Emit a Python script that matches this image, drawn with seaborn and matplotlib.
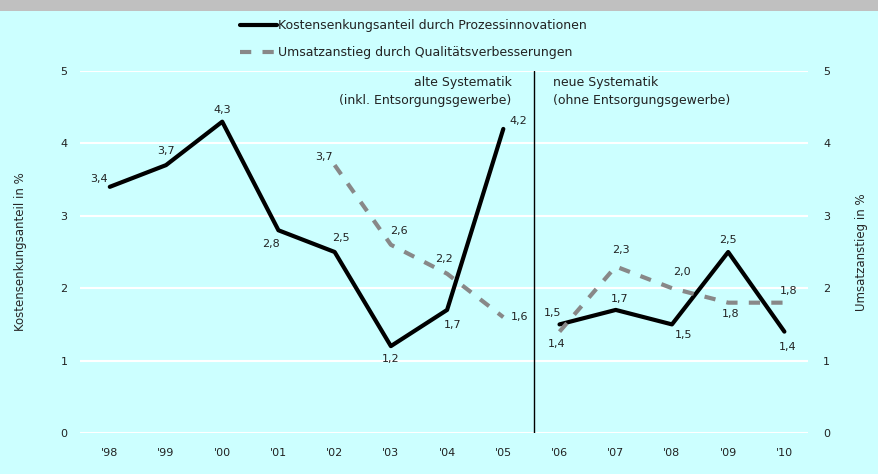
import matplotlib
matplotlib.use("Agg")
import matplotlib.pyplot as plt
from matplotlib.patches import Rectangle
import pandas as pd
import seaborn as sns

years = ["'98", "'99", "'00", "'01", "'02", "'03", "'04", "'05",
         "'06", "'07", "'08", "'09", "'10"]
kosten = [3.4, 3.7, 4.3, 2.8, 2.5, 1.2, 1.7, 4.2, 1.5, 1.7, 1.5, 2.5, 1.4]
umsatz = [None, None, None, None, 3.7, 2.6, 2.2, 1.6, 1.4, 2.3, 2.0, 1.8, 1.8]
period = ["alt"] * 8 + ["neu"] * 5

# label offsets in pixels (dx, dy)
kosten_off = [(-11, 8), (0, 14), (0, 12), (-7, -14), (6, 14), (0, -13), (6, -15),
              (15, 8), (-7, 11), (4, 11), (12, -11), (0, 12), (3, -15)]
umsatz_off = [None, None, None, None, (-11, 8), (8, 14), (-3, 15), (16, 0),
              (-3, -12), (5, 16), (10, 16), (2, -11), (4, 12)]

bg = "#ccffff"
sns.set_style("white")
plt.rcParams["font.family"] = ["DejaVu Sans"]

df = pd.DataFrame({"x": range(len(years)), "kosten": kosten,
                   "umsatz": umsatz, "period": period})
du = df.dropna(subset=["umsatz"])

fig = plt.figure(figsize=(8.79, 4.74), dpi=100, facecolor=bg)
fig.add_artist(Rectangle((0, 1 - 11 / 474), 1, 11 / 474, transform=fig.transFigure,
                         color="#c0c0c0", lw=0))
ax = fig.add_axes([80 / 879, 1 - 433 / 474, 728 / 879, 362 / 474])
ax.set_facecolor(bg)

sns.lineplot(data=df, x="x", y="kosten", units="period", estimator=None,
             color="black", lw=3, ax=ax, zorder=3)
n_k = len(ax.lines)
sns.lineplot(data=du, x="x", y="umsatz", units="period", estimator=None,
             color="#888888", lw=3, ax=ax, zorder=4)
for ln in ax.lines[n_k:]:
    ln.set_dashes([2.7, 2.7])

for i, v in enumerate(kosten):
    ax.annotate(f"{v:.1f}".replace(".", ","), (i, v), xytext=kosten_off[i],
                textcoords="offset pixels", ha="center", va="center",
                fontsize=8, color="#222222")
for i, v in enumerate(umsatz):
    if v is None:
        continue
    ax.annotate(f"{v:.1f}".replace(".", ","), (i, v), xytext=umsatz_off[i],
                textcoords="offset pixels", ha="center", va="center",
                fontsize=8, color="#222222")

ax.set_xlim(-0.53, 12.42)
ax.set_ylim(0, 5)
ax.set_yticks(range(6))
ax.grid(axis="y", color="white", lw=1.5)
ax.set_axisbelow(True)
for s in ax.spines.values():
    s.set_visible(False)
ax.set_xticks(range(len(years)))
ax.set_xticklabels(years, fontsize=8)
ax.tick_params(axis="both", length=0, labelsize=8, colors="#222222")
ax.tick_params(axis="x", pad=11)
ax.tick_params(axis="y", pad=9)
ax.set_xlabel("")
ax.set_ylabel("Kostensenkungsanteil in %", fontsize=8.5, labelpad=24)

ax.axvline(7.55, color="black", lw=1)
ax.text(7.15, 4.93, "alte Systematik\n(inkl. Entsorgungsgewerbe)", ha="right",
        va="top", fontsize=9, color="#222222", linespacing=1.45)
ax.text(7.88, 4.93, "neue Systematik\n(ohne Entsorgungsgewerbe)", ha="left",
        va="top", fontsize=9, color="#222222", linespacing=1.45)

ax2 = ax.twinx()
ax2.set_ylim(0, 5)
ax2.set_yticks(range(6))
for s in ax2.spines.values():
    s.set_visible(False)
ax2.tick_params(axis="y", length=0, labelsize=8, colors="#222222", pad=11)
ax2.set_ylabel("Umsatzanstieg in %", fontsize=8.5, labelpad=18)

handles = [ax.lines[0], ax.lines[n_k]]
leg = fig.legend(handles, ["Kostensenkungsanteil durch Prozessinnovationen",
                           "Umsatzanstieg durch Qualitätsverbesserungen"],
                 loc="upper left", bbox_to_anchor=(229 / 879, 1 - 8 / 474),
                 frameon=False, handlelength=2.9, handletextpad=0.15,
                 labelspacing=1.1, prop={"size": 9})
for t in leg.get_texts():
    t.set_color("#222222")

fig.savefig("out.png", dpi=100, facecolor=bg)
